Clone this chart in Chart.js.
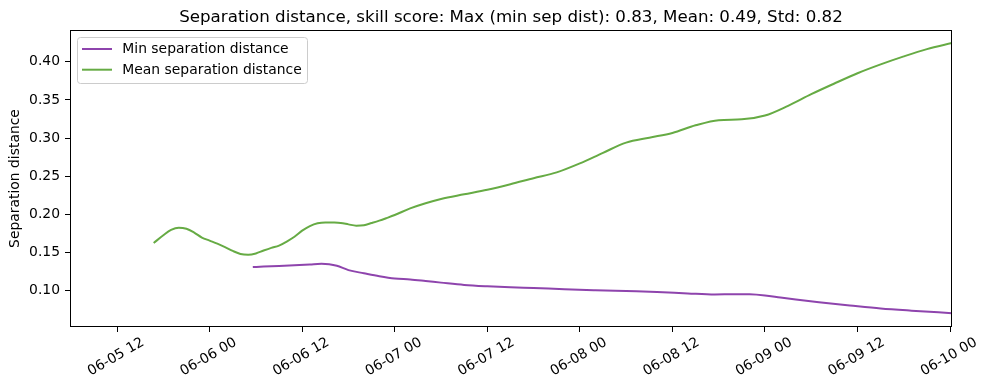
<!DOCTYPE html>
<html>
<head>
<meta charset="utf-8">
<script src="https://cdn.jsdelivr.net/npm/chart.js@4/dist/chart.umd.min.js"></script>
<style>
  html, body { margin: 0; padding: 0; background: #ffffff; }
  #wrap { width: 990px; height: 390px; }
</style>
</head>
<body>
<div id="wrap"><canvas id="c" width="990" height="390"></canvas></div>
<script>
// ---- data (hours since 06-05 00:00) ----
const titleText = "Separation distance, skill score: Max (min sep dist): 0.83, Mean: 0.49, Std: 0.82";
const yAxisTitle = "Separation distance";
const seriesNames = ["Min separation distance", "Mean separation distance"];
const seriesColors = ["#8e44ad", "#66ab44"];

const minHours  = [29.6, 31, 33, 35, 37, 38.5, 39.5, 40.5, 42, 44, 46, 48, 50, 52, 54, 57, 60, 63, 66, 70, 74, 78, 82, 86, 89.5, 92, 94, 96, 98, 100, 103, 107, 111, 115, 120.25];
const minValues = [0.1308, 0.1315, 0.1322, 0.1332, 0.1342, 0.1350, 0.1345, 0.1325, 0.1268, 0.1227, 0.1188, 0.1158, 0.1145, 0.1125, 0.1104, 0.1074, 0.1056, 0.1043, 0.1033, 0.1018, 0.1005, 0.0993, 0.0981, 0.0962, 0.0948, 0.0952, 0.0950, 0.0935, 0.0908, 0.0882, 0.0847, 0.0805, 0.0765, 0.0736, 0.0703];

const meanHours  = [16.75, 18, 19, 20, 21, 22, 23, 24, 25, 26, 27, 28, 29, 30, 31, 32, 33, 34, 35, 36, 37, 38, 39, 40, 41, 42, 43, 44, 45, 46, 47, 48, 50, 52, 54, 57, 60, 63, 66, 69, 72, 75, 78, 81, 84, 87, 90, 93, 96, 99, 102, 105, 108, 111, 114, 117, 120.25];
const meanValues = [0.1624, 0.1725, 0.1795, 0.1825, 0.1810, 0.1760, 0.1695, 0.1655, 0.1615, 0.1570, 0.1520, 0.1480, 0.1470, 0.1487, 0.1525, 0.1560, 0.1590, 0.1643, 0.1705, 0.1785, 0.1845, 0.1882, 0.1894, 0.1892, 0.1886, 0.1868, 0.1851, 0.1857, 0.1886, 0.1917, 0.1953, 0.1991, 0.2077, 0.2145, 0.2200, 0.2262, 0.2323, 0.2395, 0.2474, 0.2550, 0.2667, 0.2806, 0.2940, 0.3005, 0.3066, 0.3167, 0.3235, 0.3245, 0.3295, 0.3423, 0.3575, 0.3715, 0.3850, 0.3966, 0.4071, 0.4166, 0.4246];

const xTickHours = [12, 24, 36, 48, 60, 72, 84, 96, 108, 120];
const xTickLabels = ["06-05 12", "06-06 00", "06-06 12", "06-07 00", "06-07 12", "06-08 00", "06-08 12", "06-09 00", "06-09 12", "06-10 00"];
const yTickValues = [0.10, 0.15, 0.20, 0.25, 0.30, 0.35, 0.40];

const xMin = 5.9, xMax = 120.25;
const yMin = 0.0522, yMax = 0.4417;

const FONT = "'DejaVu Sans', sans-serif";
const FS = 13.9;

function toPoints(xs, ys) { return xs.map((x, i) => ({ x: x, y: ys[i] })); }

const framePlugin = {
  id: 'frameAndText',
  afterDraw(chart) {
    const ctx = chart.ctx;
    const a = chart.chartArea;
    const xs = chart.scales.x;
    ctx.save();
    // frame
    ctx.strokeStyle = '#000';
    ctx.lineWidth = 1;
    const L = Math.round(a.left) + 0.5, T = Math.round(a.top) + 0.5;
    const R = Math.round(a.right) - 0.5, B = Math.round(a.bottom) - 0.5;
    ctx.strokeRect(L, T, R - L, B - T);

    // title
    ctx.fillStyle = '#000';
    ctx.font = (FS * 1.2).toFixed(2) + 'px ' + FONT;
    ctx.textAlign = 'center';
    ctx.textBaseline = 'alphabetic';
    ctx.fillText(titleText, (a.left + a.right) / 2, a.top - 8.3);

    // rotated x tick labels (centered like matplotlib)
    ctx.font = FS + 'px ' + FONT;
    ctx.textAlign = 'center';
    ctx.textBaseline = 'middle';
    xTickHours.forEach((h, i) => {
      const px = xs.getPixelForValue(h);
      ctx.save();
      ctx.translate(px - 1, a.bottom + 30);
      ctx.rotate(-Math.PI / 6);
      ctx.fillText(xTickLabels[i], 0, 0);
      ctx.restore();
    });

    // legend
    const bx = 77.5, by = 37.5, bw = 230, bh = 46;
    ctx.beginPath();
    if (ctx.roundRect) ctx.roundRect(bx, by, bw, bh, 3); else ctx.rect(bx, by, bw, bh);
    ctx.fillStyle = 'rgba(255,255,255,0.8)';
    ctx.fill();
    ctx.strokeStyle = '#cccccc';
    ctx.lineWidth = 1;
    ctx.stroke();
    const rows = [49, 69.7];
    ctx.textAlign = 'left';
    ctx.textBaseline = 'middle';
    seriesNames.forEach((name, i) => {
      ctx.strokeStyle = seriesColors[i];
      ctx.lineWidth = 2;
      ctx.beginPath();
      ctx.moveTo(82, rows[i]);
      ctx.lineTo(112, rows[i]);
      ctx.stroke();
      ctx.fillStyle = '#000';
      ctx.fillText(name, 122.3, rows[i] + 0.5);
    });
    ctx.restore();
  }
};

new Chart(document.getElementById('c'), {
  type: 'line',
  data: {
    datasets: [
      { label: seriesNames[0], data: toPoints(minHours, minValues), borderColor: seriesColors[0], backgroundColor: seriesColors[0], borderWidth: 2, pointRadius: 0, cubicInterpolationMode: 'monotone', fill: false },
      { label: seriesNames[1], data: toPoints(meanHours, meanValues), borderColor: seriesColors[1], backgroundColor: seriesColors[1], borderWidth: 2, pointRadius: 0, cubicInterpolationMode: 'monotone', fill: false }
    ]
  },
  options: {
    responsive: false,
    animation: false,
    devicePixelRatio: 1,
    layout: { padding: { top: 30, right: 38, left: 0, bottom: 0 } },
    plugins: { legend: { display: false }, tooltip: { enabled: false }, title: { display: false } },
    scales: {
      x: {
        type: 'linear',
        min: xMin, max: xMax,
        afterBuildTicks: (s) => { s.ticks = xTickHours.map(v => ({ value: v })); },
        afterFit: (s) => { s.height = 63; },
        grid: { display: true, drawOnChartArea: false, drawTicks: true, tickLength: 5, tickColor: '#000', color: '#000' },
        border: { display: false },
        ticks: { display: false }
      },
      y: {
        type: 'linear',
        min: yMin, max: yMax,
        afterBuildTicks: (s) => { s.ticks = yTickValues.map(v => ({ value: v })); },
        afterFit: (s) => { s.width = 70; },
        grid: { display: true, drawOnChartArea: false, drawTicks: true, tickLength: 5, tickColor: '#000', color: '#000' },
        border: { display: false },
        ticks: { color: '#000', padding: 5, font: { family: FONT, size: FS }, callback: (v) => Number(v).toFixed(2) },
        title: { display: true, text: yAxisTitle, color: '#000', font: { family: FONT, size: FS }, padding: { top: 7, bottom: 0 } }
      }
    }
  },
  plugins: [framePlugin]
});
</script>
</body>
</html>
